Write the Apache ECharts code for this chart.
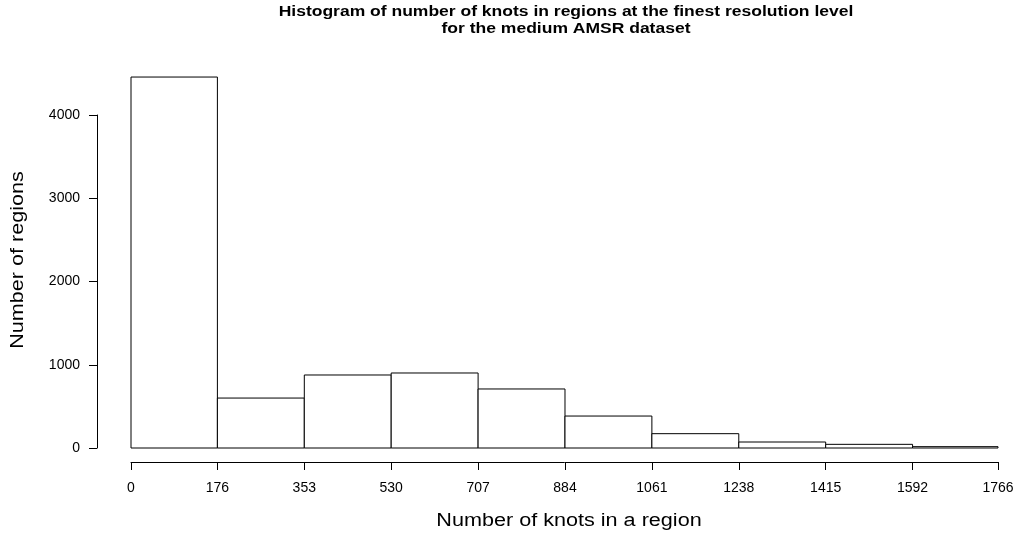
<!DOCTYPE html>
<html lang="en">
  <head>
    <meta charset="UTF-8" />
    <title>Histogram of knots per region</title>
    <script src="https://cdn.jsdelivr.net/npm/echarts@6/dist/echarts.min.js"></script>
  </head>
  <body style="margin:0">
    <div id="container" style="width: 1017px;height: 537px"></div>
    <script>
      // bin edges and counts
      var breaks = [0, 176, 353, 530, 707, 884, 1061, 1238, 1415, 1592, 1766]
      var counts = [4456, 600, 877, 901, 709, 384, 172, 72, 44, 16]
      var yTicks = [0, 1000, 2000, 3000, 4000]

      var bins = []
      counts.forEach(function (c, i) {
        bins.push([breaks[i], breaks[i + 1], c])
      })

      var font = 'Liberation Sans, Arial, Helvetica, sans-serif'
      var plain = function (v) { return String(v) }
      // the source picture is a bit stretched sideways, so the texts get a scaleX
      var stretch = 1.2
      var myChart = echarts.init(document.querySelector('#container'))
      myChart.setOption({
        backgroundColor: '#ffffff',
        animation: false,
        textStyle: { fontFamily: font },
        graphic: [
          {
            type: 'text', x: 566, y: 4, scaleX: 1.25,
            style: {
              text: 'Histogram of number of knots in regions at the finest resolution level\nfor the medium AMSR dataset',
              align: 'center', verticalAlign: 'top', fill: '#000', font: 'bold 14px ' + font, lineHeight: 17
            }
          },
          {
            type: 'text', x: 18, y: 260, rotation: Math.PI / 2, scaleX: stretch,
            style: {
              text: 'Number of regions', align: 'center', verticalAlign: 'middle',
              fill: '#000', font: '18px ' + font
            }
          },
          {
            type: 'text', x: 569, y: 521, scaleX: stretch,
            style: {
              text: 'Number of knots in a region', align: 'center', verticalAlign: 'middle',
              fill: '#000', font: '18px ' + font
            }
          }
        ],
        grid: { left: 131, right: 19, top: 115, bottom: 89, outerBoundsMode: 'none', containLabel: false },
        xAxis: {
          type: 'value', min: 0, max: 1766, offset: 14,
          axisLine: { show: true, onZero: false, lineStyle: { color: '#000', width: 1 } },
          axisTick: { show: true, length: 8, customValues: breaks, lineStyle: { color: '#000' } },
          axisLabel: { customValues: breaks, formatter: plain, margin: 19, fontSize: 14, color: '#000', fontFamily: font },
          splitLine: { show: false }
        },
        yAxis: {
          type: 'value', min: 0, max: 4000, interval: 1000, offset: 34,
          axisLine: { show: true, onZero: false, lineStyle: { color: '#000', width: 1 } },
          axisTick: { show: true, length: 8, lineStyle: { color: '#000' } },
          axisLabel: { customValues: yTicks, formatter: plain, margin: 17, fontSize: 14, color: '#000', fontFamily: font },
          splitLine: { show: false }
        },
        series: [
          {
            type: 'custom',
            clip: false,
            renderItem: function (params, api) {
              var p0 = api.coord([api.value(0), 0])
              var p1 = api.coord([api.value(1), api.value(2)])
              return {
                type: 'rect',
                shape: { x: p0[0], y: p1[1], width: p1[0] - p0[0], height: p0[1] - p1[1] },
                style: { fill: '#ffffff', stroke: '#000000', lineWidth: 1 }
              }
            },
            encode: { x: [0, 1], y: 2 },
            data: bins
          }
        ]
      })
    </script>
  </body>
</html>
